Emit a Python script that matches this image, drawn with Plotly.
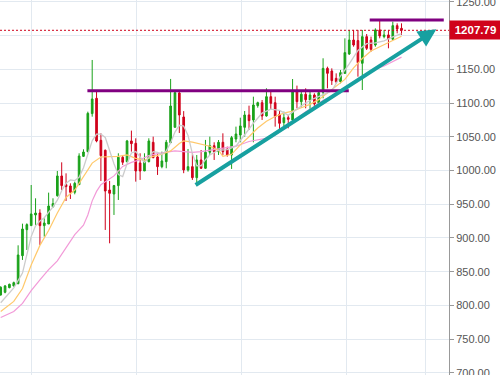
import plotly.graph_objects as go

# ---------------- data ----------------
opens = [815.5, 819.5, 826.4, 828.9, 832.3, 873.8, 912.3, 918.3, 934.1, 937.0,
         918.3, 920.7, 946.4, 962.7, 991.9, 979.0, 977.1, 967.7, 979.0, 1021.0,
         1027.9, 1084.3, 1107.0, 1044.7, 1030.0, 971.1, 965.2, 977.6, 1019.6, 1013.1,
         1043.8, 1040.3, 1011.2, 999.3, 1013.1, 1041.8, 1020.1, 1005.7, 1013.1, 1041.3,
         1064.0, 1115.0, 1079.3, 1000.8, 1005.7, 989.4, 1015.6, 1003.3, 1027.0, 1036.8,
         1027.9, 1041.8, 1031.4, 1023.0, 1046.7, 1052.6, 1064.0, 1082.3, 1074.9, 1096.1,
         1100.5, 1080.8, 1109.4, 1100.5, 1083.3, 1070.9, 1078.3, 1074.9, 1118.3, 1102.0,
         1113.0, 1104.5, 1111.9, 1099.6, 1116.0, 1151.4, 1147.5, 1136.6, 1131.7, 1144.0,
         1172.7, 1193.4, 1192.5, 1158.9, 1198.4, 1193.4, 1186.0, 1208.3, 1198.4, 1200.9,
         1194.5, 1214.7, 1210.7]
highs = [828.4, 830.3, 832.3, 835.3, 889.1, 921.2, 921.7, 978.5, 958.8, 942.5,
         929.1, 967.2, 958.8, 999.3, 1012.1, 995.8, 981.0, 983.5, 1025.5, 1031.4,
         1087.2, 1163.8, 1116.9, 1055.1, 1031.0, 984.5, 978.6, 1025.5, 1023.0, 1045.3,
         1059.1, 1047.7, 1025.5, 1025.5, 1047.7, 1050.2, 1025.5, 1028.0, 1045.3, 1135.7,
         1116.9, 1118.0, 1088.0, 1031.9, 1025.5, 1023.0, 1030.4, 1045.3, 1050.2, 1041.8,
         1045.2, 1055.1, 1035.4, 1051.2, 1065.0, 1078.3, 1088.2, 1096.1, 1109.4, 1102.0,
         1104.5, 1121.8, 1116.9, 1109.4, 1089.7, 1087.2, 1082.3, 1135.6, 1125.8, 1118.0,
         1121.8, 1119.3, 1114.4, 1119.3, 1166.3, 1153.9, 1151.4, 1144.0, 1149.0, 1195.9,
         1208.3, 1208.3, 1208.3, 1208.3, 1202.3, 1198.4, 1210.7, 1223.1, 1208.3, 1208.3,
         1220.6, 1218.1, 1218.1]
lows = [814.5, 818.0, 825.4, 827.9, 831.3, 867.4, 882.2, 918.3, 919.3, 889.6,
        902.0, 920.7, 945.0, 961.2, 971.1, 954.8, 957.8, 964.7, 978.5, 1020.0,
        1027.0, 1079.8, 1041.8, 984.5, 911.9, 892.1, 934.1, 956.3, 1008.2, 1012.1,
        1028.0, 983.5, 986.0, 999.3, 1012.1, 1018.1, 993.4, 1003.3, 1003.3, 1041.3,
        1064.0, 1055.6, 996.0, 998.3, 986.0, 978.6, 1002.3, 1002.3, 1023.0, 1015.6,
        1023.0, 1023.0, 1020.5, 1002.3, 1041.8, 1041.8, 1050.2, 1060.1, 1041.8, 1093.1,
        1074.9, 1079.8, 1089.7, 1065.0, 1060.1, 1062.5, 1062.5, 1072.4, 1092.2, 1093.0,
        1092.2, 1090.7, 1094.6, 1098.1, 1107.0, 1121.8, 1126.8, 1129.2, 1129.2, 1143.1,
        1171.2, 1183.5, 1139.1, 1119.3, 1178.6, 1176.1, 1183.5, 1195.9, 1195.9, 1181.1,
        1193.4, 1203.3, 1200.9]
closes = [826.9, 828.9, 831.3, 833.8, 874.8, 913.3, 919.8, 935.6, 937.0, 918.3,
          922.2, 947.4, 950.9, 991.9, 977.6, 976.1, 967.7, 981.0, 1021.5, 1027.4,
          1084.7, 1106.0, 1043.7, 1022.0, 969.6, 966.2, 977.6, 1019.6, 1012.2, 1043.8,
          1039.8, 999.3, 999.3, 1015.1, 1043.8, 1019.1, 1005.7, 1014.1, 1041.8, 1095.6,
          1115.4, 1082.3, 1000.8, 1005.7, 989.4, 1015.6, 1003.3, 1027.0, 1036.8, 1027.9,
          1041.8, 1027.9, 1023.0, 1048.7, 1054.1, 1066.0, 1082.3, 1073.9, 1097.1, 1100.5,
          1080.8, 1109.4, 1099.6, 1079.8, 1069.9, 1078.3, 1075.9, 1118.3, 1102.0, 1113.0,
          1105.0, 1111.9, 1098.6, 1115.4, 1151.4, 1144.0, 1133.2, 1131.7, 1145.0, 1174.7,
          1193.4, 1186.0, 1159.8, 1198.4, 1181.1, 1179.6, 1208.3, 1199.4, 1200.9, 1195.0,
          1214.7, 1209.7, 1207.79]
bar_index = list(range(len(closes)))

# moving averages, read at selected bars
ma_gray_idx = [0, 3, 5, 6, 7, 8, 9, 10, 11, 12, 13, 14, 15, 16, 17, 18, 19, 20, 21, 22,
               23, 24, 25, 26, 27, 28, 29, 30, 31, 32, 33, 34, 35, 36, 37, 38, 39, 40, 41,
               42, 43, 44, 45, 46, 47, 48, 50, 52, 54, 56, 58, 60, 62, 64, 66, 68, 70, 72,
               74, 76, 78, 80, 82, 84, 86, 88, 90, 92]
ma_gray_val = [804, 826, 848, 875, 902, 918, 925, 930, 938, 946, 956, 970, 981, 986, 985,
               990, 1004, 1024, 1044, 1054, 1054, 1049, 1029, 1010, 994, 991, 1010, 1026,
               1028, 1020, 1012, 1019, 1028, 1027, 1024, 1029, 1041, 1057, 1067, 1066,
               1052, 1025, 1007, 1007, 1016, 1023, 1030, 1031, 1036, 1053, 1070, 1085,
               1091, 1089, 1082, 1091, 1100, 1107, 1112, 1118, 1140, 1158, 1178, 1188,
               1189, 1192, 1198, 1203]
ma_orange_idx = [0, 3, 5, 7, 9, 11, 13, 15, 17, 19, 21, 23, 25, 27, 29, 31, 33, 35, 37,
                 39, 41, 42, 44, 46, 48, 50, 51, 53, 55, 57, 59, 61, 63, 65, 67, 69, 71,
                 73, 75, 77, 79, 81, 83, 85, 87, 89, 91, 92]
ma_orange_val = [791, 806, 825, 860, 889, 911, 937, 960, 971, 990, 1011, 1020, 1020, 1021,
                 1023, 1018, 1015, 1021, 1024, 1029, 1040, 1044, 1042, 1039, 1036, 1030,
                 1021, 1024, 1038, 1050, 1063, 1073, 1080, 1085, 1088, 1093, 1098, 1105,
                 1115, 1124, 1135, 1152, 1166, 1177, 1183, 1190, 1196, 1199]
ma_pink_idx = [0, 3, 5, 7, 9, 11, 13, 15, 17, 19, 20, 21, 22, 23, 24, 25, 26, 28, 30, 32,
               34, 36, 38, 40, 42, 44, 46, 48, 51, 54, 57, 60, 62, 64, 66, 68, 70, 72, 74,
               76, 78, 80, 82, 84, 86, 88, 90, 92]
ma_pink_val = [782, 791, 803, 822, 838, 853, 866, 885, 905, 919, 934, 955, 969, 979, 983,
               987, 992, 1006, 1012, 1016, 1022, 1025, 1027, 1029, 1028, 1027, 1028, 1030,
               1033, 1036, 1043, 1046, 1049, 1057, 1067, 1078, 1087, 1095, 1104, 1110,
               1118, 1127, 1135, 1142, 1150, 1155, 1162, 1168]

# drawn lines (bar index, price)
resistance_low = {"x": [19.9, 79.9], "y": [1118.3, 1118.3]}
resistance_high = {"x": [84.7, 101.7], "y": [1223.1, 1223.1]}
trend_arrow = {"x": [44.4, 100.0], "y": [977.0, 1209.3]}

last_price = closes[-1]
month_grid = [7.1, 31.2, 55.3, 79.4, 97.5]
y_ticks = list(range(700, 1251, 50))

GREEN = "#1aa21a"
RED = "#d0021b"
GRID = "#e2e9f0"
FONT = "Liberation Sans, Arial"

fig = go.Figure()

fig.add_trace(go.Scatter(x=ma_pink_idx, y=ma_pink_val, mode="lines",
                         line=dict(color="#f29ad8", width=1.2), hoverinfo="skip"))
fig.add_trace(go.Scatter(x=ma_orange_idx, y=ma_orange_val, mode="lines",
                         line=dict(color="#ffc96b", width=1.2), hoverinfo="skip"))
fig.add_trace(go.Scatter(x=ma_gray_idx, y=ma_gray_val, mode="lines",
                         line=dict(color="#cccccc", width=1.3), hoverinfo="skip"))

fig.add_trace(go.Candlestick(
    x=bar_index, open=opens, high=highs, low=lows, close=closes,
    increasing=dict(line=dict(color=GREEN, width=1), fillcolor=GREEN),
    decreasing=dict(line=dict(color=RED, width=1), fillcolor=RED),
    whiskerwidth=0,
))

# current price dotted line
fig.add_shape(type="line", xref="paper", x0=0, x1=1, yref="y",
              y0=last_price, y1=last_price,
              line=dict(color=RED, width=1, dash="2px,2px"), layer="above")

# resistance lines
for seg in (resistance_low, resistance_high):
    fig.add_shape(type="line", xref="x", yref="y",
                  x0=seg["x"][0], x1=seg["x"][1], y0=seg["y"][0], y1=seg["y"][1],
                  line=dict(color="#800080", width=3), layer="above")

# trend arrow
fig.add_annotation(x=trend_arrow["x"][1], y=trend_arrow["y"][1],
                   ax=trend_arrow["x"][0], ay=trend_arrow["y"][0],
                   xref="x", yref="y", axref="x", ayref="y",
                   text="", showarrow=True, arrowhead=2, arrowsize=0.9,
                   arrowwidth=4, arrowcolor="#17a0a0", standoff=0)

# price label
fig.add_annotation(xref="paper", x=1, xanchor="left", yref="y", y=last_price,
                   text="<b>%.2f</b>" % last_price, showarrow=False,
                   font=dict(family=FONT, size=11.5, color="white"),
                   bgcolor=RED, width=51, height=18, borderpad=0, align="center")

fig.update_layout(
    width=500, height=375,
    margin=dict(l=0, r=51, t=0, b=0, autoexpand=False),
    paper_bgcolor="white", plot_bgcolor="white",
    showlegend=False, boxgap=0.45, hovermode=False,
    xaxis=dict(range=[-0.16, 102.9], rangeslider=dict(visible=False),
               tickvals=month_grid, showticklabels=False, ticks="",
               showgrid=True, gridcolor=GRID, gridwidth=1, zeroline=False,
               showline=False, automargin=False),
    yaxis=dict(side="right", range=[696.9, 1252.7], tickvals=y_ticks,
               tickformat=".2f", ticks="outside", ticklen=4, tickcolor="#999999",
               showline=True, linecolor="#999999", linewidth=1, automargin=False,
               ticklabeloverflow="allow",
               showgrid=True, gridcolor=GRID, gridwidth=1, zeroline=False,
               tickfont=dict(family=FONT, size=11, color="#555555")),
)

fig.write_html("out.html",
               config={"displayModeBar": False, "staticPlot": True},
               post_script="document.body.style.margin='0';document.body.style.overflow='hidden';")
